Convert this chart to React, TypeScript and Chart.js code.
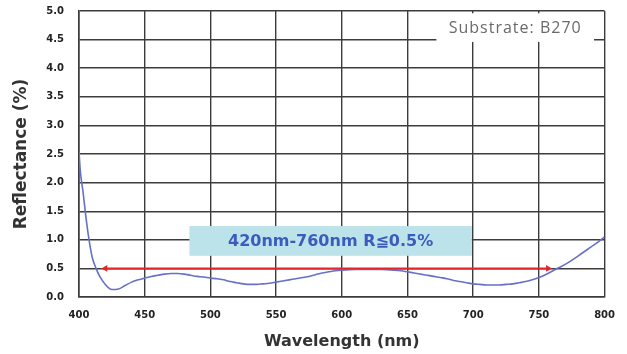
import React, { useEffect, useRef } from "react";
import { Chart, registerables } from "chart.js";

Chart.register(...registerables);

const wavelengths = [400,401,403,405,407,410,413,416,420,425,430,435,440,445,450,455,460,465,470,475,480,485,490,495,500,505,510,515,520,525,530,535,540,545,550,555,560,565,570,575,580,585,590,595,600,610,620,630,640,645,650,655,660,665,670,675,680,685,690,695,700,705,710,715,720,725,730,735,740,745,750,755,760,765,770,775,780,785,790,795,800];
const reflectance = [2.55,2.2,1.85,1.45,1.1,0.7,0.5,0.35,0.22,0.13,0.14,0.2,0.26,0.3,0.33,0.36,0.38,0.4,0.41,0.41,0.4,0.38,0.36,0.35,0.33,0.32,0.3,0.27,0.25,0.23,0.22,0.22,0.23,0.24,0.26,0.28,0.3,0.32,0.34,0.36,0.39,0.42,0.44,0.46,0.47,0.48,0.48,0.48,0.47,0.46,0.44,0.42,0.4,0.38,0.36,0.34,0.32,0.29,0.27,0.25,0.23,0.22,0.21,0.21,0.21,0.22,0.23,0.25,0.27,0.3,0.34,0.39,0.45,0.51,0.57,0.64,0.72,0.8,0.88,0.96,1.05];

const specRangeX = [420, 757];
const specRangeY = [0.5, 0.5];

const specLabel = "420nm-760nm R≦0.5%";
const specBoxX = [484, 699];
const specBoxY = [0.72, 1.24];

const substrateLabel = "Substrate: B270";
const substrateBoxX = [672, 792];
const substrateBoxY = [4.46, 4.96];

const xTitle = "Wavelength (nm)";
const yTitle = "Reflectance (%)";

const boxesPlugin = {
  id: "boxes",
  beforeDatasetsDraw(chart: any) {
    const { ctx, scales } = chart;
    const xs = scales.x, ys = scales.y;
    ctx.save();
    let x0 = xs.getPixelForValue(specBoxX[0]);
    let x1 = xs.getPixelForValue(specBoxX[1]);
    let y0 = ys.getPixelForValue(specBoxY[1]);
    let y1 = ys.getPixelForValue(specBoxY[0]);
    ctx.fillStyle = "#bde3ea";
    ctx.fillRect(x0, y0, x1 - x0, y1 - y0);
    ctx.fillStyle = "#3b5bbf";
    ctx.font = 'bold 16px "DejaVu Sans"';
    ctx.textAlign = "center";
    ctx.textBaseline = "middle";
    ctx.fillText(specLabel, (x0 + x1) / 2, (y0 + y1) / 2 + 1);
    x0 = xs.getPixelForValue(substrateBoxX[0]);
    x1 = xs.getPixelForValue(substrateBoxX[1]);
    y0 = ys.getPixelForValue(substrateBoxY[1]);
    y1 = ys.getPixelForValue(substrateBoxY[0]);
    ctx.fillStyle = "#ffffff";
    ctx.fillRect(x0, y0, x1 - x0, y1 - y0);
    ctx.fillStyle = "#6a6a6a";
    ctx.font = '400 16px "Open Sans"';
    try { (ctx as any).letterSpacing = "1px"; } catch (e) {}
    ctx.fillText(substrateLabel, (x0 + x1) / 2, (y0 + y1) / 2 + 1);
    ctx.restore();
  },
};

export default function App() {
  const ref = useRef<HTMLCanvasElement | null>(null);
  useEffect(() => {
    if (!ref.current) return;
    const chart = new Chart(ref.current, {
      type: "line",
      data: {
        datasets: [
          {
            label: "Reflectance",
            data: wavelengths.map((w, i) => ({ x: w, y: reflectance[i] })),
            borderColor: "#6670c8",
            borderWidth: 1.6,
            pointRadius: 0,
            cubicInterpolationMode: "monotone",
            fill: false,
            order: 2,
          },
          {
            label: "Spec",
            data: specRangeX.map((w, i) => ({ x: w, y: specRangeY[i] })),
            borderColor: "#e3262a",
            backgroundColor: "#e3262a",
            borderWidth: 2,
            pointStyle: "triangle",
            pointRadius: 4,
            pointRotation: [-90, 90] as any,
            pointBorderWidth: 0,
            order: 1,
          },
        ],
      },
      options: {
        animation: false,
        responsive: false,
        layout: { padding: { left: 0, right: 22, top: 11, bottom: 0 } },
        plugins: { legend: { display: false }, tooltip: { enabled: false } },
        scales: {
          x: {
            type: "linear",
            min: 400,
            max: 800,
            afterFit: (s: any) => { s.height = 57; },
            ticks: {
              stepSize: 50,
              padding: 12,
              color: "#222",
              font: { family: "DejaVu Sans", size: 10, weight: "bold" },
              callback: (v: any) => String(v),
            },
            grid: { color: "#3c3c3c", lineWidth: 1.4, drawTicks: false },
            border: { color: "#3c3c3c", width: 1.6 },
            title: {
              display: true,
              text: xTitle,
              color: "#333",
              font: { family: "DejaVu Sans", size: 16, weight: "bold" },
              padding: { top: 0, bottom: 3 },
            },
          },
          y: {
            min: 0,
            max: 5,
            afterFit: (s: any) => { s.width = 79; s.paddingTop = 0; s.paddingBottom = 0; },
            ticks: {
              stepSize: 0.5,
              padding: 15,
              color: "#222",
              font: { family: "DejaVu Sans", size: 10, weight: "bold" },
              callback: (v: any) => Number(v).toFixed(1),
            },
            grid: { color: "#3c3c3c", lineWidth: 1.4, drawTicks: false },
            border: { color: "#3c3c3c", width: 1.6 },
            title: {
              display: true,
              text: yTitle,
              color: "#333",
              font: { family: "DejaVu Sans", size: 17, weight: "bold" },
              padding: { top: 11, bottom: 0 },
            },
          },
        },
      },
      plugins: [boxesPlugin],
    } as any);
    return () => chart.destroy();
  }, []);
  return (
    <div style={{ position: "fixed", left: 0, top: 0, width: 627, height: 354, background: "#fff" }}>
      <canvas ref={ref} width={627} height={354} />
    </div>
  );
}
